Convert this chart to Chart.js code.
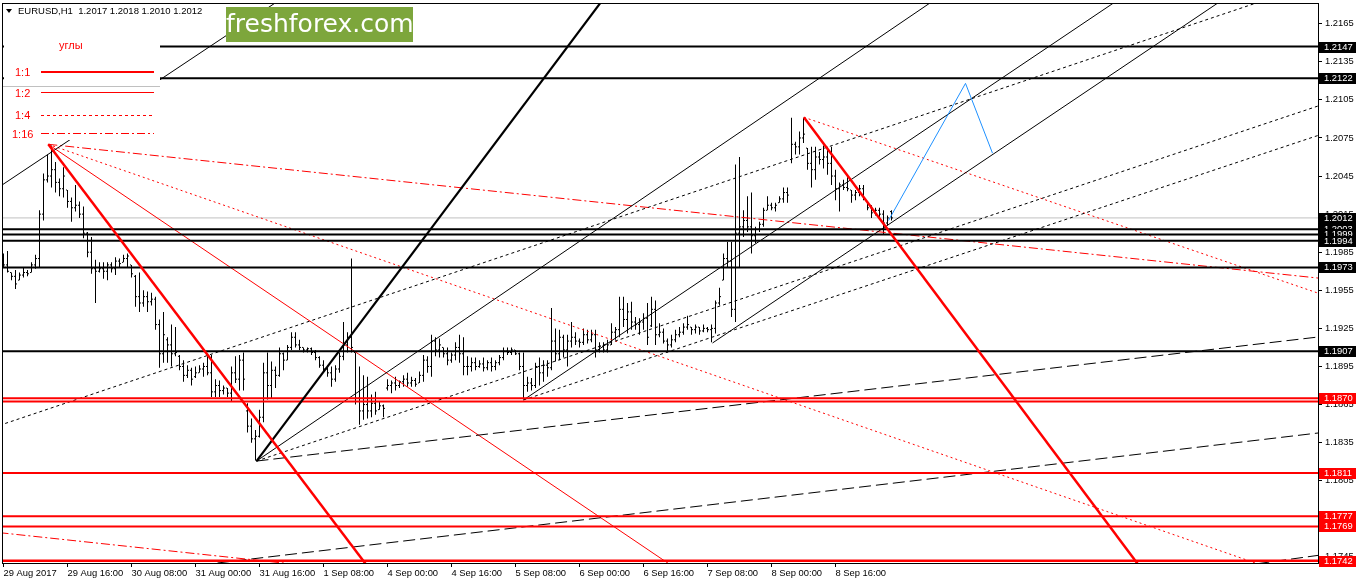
<!DOCTYPE html>
<html>
<head>
<meta charset="utf-8">
<title>EURUSD H1</title>
<script src="https://cdn.jsdelivr.net/npm/chart.js@4.4.1/dist/chart.umd.min.js"></script>
<style>
  html, body { margin: 0; padding: 0; background: #fff; overflow: hidden; }
  #wrap { position: relative; width: 1358px; height: 584px; }
  #chartCanvas { position: absolute; left: 0; top: 0; }
  #hdr { position: absolute; left: 18px; top: 5px; font: 9.5px "Liberation Sans", Arial, sans-serif; color: #000; white-space: pre; }
  #tri { position: absolute; left: 6px; top: 9px; width: 0; height: 0; border-left: 3px solid transparent; border-right: 3px solid transparent; border-top: 4px solid #000; }
  #logo { position: absolute; left: 226px; top: 7px; width: 187px; height: 35px; background: #7da63c; color: #fff; font: 25px "DejaVu Sans", sans-serif; line-height: 34px; text-align: center; }
  #angles { position: absolute; left: 4px; top: 28px; width: 156px; height: 112px; background: #fff; font: 11px "Liberation Sans", Arial, sans-serif; color: #f00; }
  #angles .t { position: absolute; line-height: 12px; }
  #angles .ln { position: absolute; left: 37px; width: 113px; height: 1px; }
  #angles .sep { position: absolute; left: -1px; width: 157px; top: 58px; border-top: 1px solid #c0c0c0; }
</style>
</head>
<body>
<div id="wrap">
  <canvas id="chartCanvas" width="1358" height="584"></canvas>
  <div id="tri"></div>
  <div id="hdr">EURUSD,H1  1.2017 1.2018 1.2010 1.2012</div>
  <div id="logo">freshforex.com</div>
  <div id="angles">
    <div class="t" style="left:55px;top:11px">углы</div>
    <div class="t" style="left:11px;top:38px">1:1</div>
    <div class="ln" style="top:43px;height:2px;background:#f00"></div>
    <div class="sep"></div>
    <div class="t" style="left:11px;top:59px">1:2</div>
    <div class="ln" style="top:64px;background:#f00"></div>
    <div class="t" style="left:11px;top:81px">1:4</div>
    <div class="ln" style="top:87px;background:repeating-linear-gradient(90deg,#f00 0 3px,transparent 3px 6px)"></div>
    <div class="t" style="left:8px;top:100px">1:16</div>
    <div class="ln" style="top:105px;background:repeating-linear-gradient(90deg,#f00 0 8px,transparent 8px 11px,#f00 11px 13px,transparent 13px 16px)"></div>
  </div>
</div>
<script>
// --- time axis (bar index of each label) ---
const timeLabels = ['29 Aug 2017', '29 Aug 16:00', '30 Aug 08:00', '31 Aug 00:00', '31 Aug 16:00', '1 Sep 08:00',
  '4 Sep 00:00', '4 Sep 16:00', '5 Sep 08:00', '6 Sep 00:00', '6 Sep 16:00', '7 Sep 08:00', '8 Sep 00:00', '8 Sep 16:00'];
const timeTickBars = [0, 16, 32, 48, 64, 80, 96, 112, 128, 144, 160, 176, 192, 208];

// --- price axis ---
const priceTicks = [1.1745, 1.1775, 1.1805, 1.1835, 1.1865, 1.1895, 1.1925, 1.1955, 1.1985, 1.2015, 1.2045, 1.2075, 1.2105, 1.2135, 1.2165];
const X_MIN = -0.375, X_MAX = 328.625;
const Y_MIN = 1.17402, Y_MAX = 1.21813;

// --- H1 bars (open / high / low / close) ---
const barOpen = [
  1.1980, 1.1975, 1.1969, 1.1966, 1.1963, 1.1967, 1.1969, 1.1969, 1.1975, 1.1980,
  1.2015, 1.2042, 1.2045, 1.2050, 1.2040, 1.2035, 1.2034, 1.2025, 1.2020, 1.2022,
  1.2015, 1.2000, 1.1985, 1.1972, 1.1970, 1.1972, 1.1970, 1.1975, 1.1972, 1.1978,
  1.1977, 1.1980, 1.1975, 1.1966, 1.1950, 1.1945, 1.1950, 1.1946, 1.1948, 1.1928,
  1.1905, 1.1916, 1.1912, 1.1905, 1.1903, 1.1895, 1.1888, 1.1892, 1.1887, 1.1890,
  1.1893, 1.1895, 1.1890, 1.1875, 1.1880, 1.1876, 1.1878, 1.1874, 1.1890, 1.1885,
  1.1900, 1.1860, 1.1848, 1.1838, 1.1840, 1.1855, 1.1890, 1.1880, 1.1892, 1.1888,
  1.1905, 1.1900, 1.1910, 1.1918, 1.1912, 1.1910, 1.1908, 1.1909, 1.1906, 1.1902,
  1.1896, 1.1893, 1.1890, 1.1885, 1.1893, 1.1903, 1.1912, 1.1918, 1.1906, 1.1870,
  1.1860, 1.1865, 1.1860, 1.1866, 1.1861, 1.1864, 1.1878, 1.1880, 1.1882, 1.1880,
  1.1883, 1.1885, 1.1882, 1.1884, 1.1882, 1.1888, 1.1900, 1.1895, 1.1915, 1.1908,
  1.1910, 1.1905, 1.1900, 1.1904, 1.1910, 1.1905, 1.1895, 1.1895, 1.1898, 1.1895,
  1.1897, 1.1894, 1.1898, 1.1895, 1.1898, 1.1902, 1.1907, 1.1906, 1.1908, 1.1905,
  1.1895, 1.1880, 1.1882, 1.1880, 1.1895, 1.1890, 1.1896, 1.1894, 1.1915, 1.1905,
  1.1918, 1.1908, 1.1915, 1.1918, 1.1915, 1.1914, 1.1920, 1.1916, 1.1920, 1.1908,
  1.1911, 1.1908, 1.1912, 1.1922, 1.1924, 1.1940, 1.1932, 1.1938, 1.1930, 1.1928,
  1.1930, 1.1933, 1.1927, 1.1940, 1.1920, 1.1922, 1.1915, 1.1912, 1.1916, 1.1920,
  1.1922, 1.1926, 1.1926, 1.1924, 1.1926, 1.1923, 1.1925, 1.1924, 1.1925, 1.1945,
  1.1963, 1.1980, 1.1978, 1.1940, 1.2000, 1.2005, 1.2010, 1.2005, 1.1998, 1.2003,
  1.2007, 1.2018, 1.2022, 1.2020, 1.2024, 1.2027, 1.2032, 1.2058, 1.2070, 1.2068,
  1.2075, 1.2067, 1.2055, 1.2050, 1.2060, 1.2058, 1.2060, 1.2055, 1.2045, 1.2035,
  1.2038, 1.2036, 1.2034, 1.2030, 1.2032, 1.2035, 1.2025, 1.2020, 1.2016, 1.2018,
  1.2015, 1.2008, 1.2017
];
const barHigh = [
  1.1984, 1.1986, 1.1969, 1.1971, 1.1969, 1.1973, 1.1971, 1.1977, 1.1983, 1.2018,
  1.2047, 1.2062, 1.2069, 1.2056, 1.2043, 1.2052, 1.2034, 1.2028, 1.2038, 1.2025,
  1.2021, 1.2001, 1.1997, 1.1979, 1.1977, 1.1977, 1.1977, 1.1977, 1.1981, 1.1980,
  1.1983, 1.1984, 1.1975, 1.1967, 1.1969, 1.1955, 1.1954, 1.1953, 1.1950, 1.1932,
  1.1938, 1.1918, 1.1928, 1.1926, 1.1904, 1.1900, 1.1896, 1.1894, 1.1895, 1.1896,
  1.1898, 1.1903, 1.1904, 1.1885, 1.1884, 1.1880, 1.1878, 1.1895, 1.1903, 1.1904,
  1.1906, 1.1866, 1.1854, 1.1845, 1.1861, 1.1898, 1.1906, 1.1899, 1.1895, 1.1910,
  1.1906, 1.1912, 1.1922, 1.1922, 1.1916, 1.1910, 1.1910, 1.1910, 1.1908, 1.1903,
  1.1900, 1.1896, 1.1895, 1.1896, 1.1906, 1.1930, 1.1922, 1.1980, 1.1906, 1.1895,
  1.1888, 1.1887, 1.1873, 1.1875, 1.1867, 1.1865, 1.1885, 1.1884, 1.1887, 1.1884,
  1.1888, 1.1890, 1.1887, 1.1886, 1.1891, 1.1904, 1.1903, 1.1920, 1.1918, 1.1917,
  1.1910, 1.1910, 1.1906, 1.1914, 1.1920, 1.1918, 1.1903, 1.1902, 1.1902, 1.1900,
  1.1902, 1.1900, 1.1902, 1.1900, 1.1904, 1.1910, 1.1910, 1.1910, 1.1908, 1.1906,
  1.1906, 1.1887, 1.1886, 1.1898, 1.1902, 1.1900, 1.1900, 1.1941, 1.1925, 1.1924,
  1.1920, 1.1920, 1.1930, 1.1922, 1.1917, 1.1925, 1.1924, 1.1924, 1.1924, 1.1914,
  1.1914, 1.1916, 1.1929, 1.1926, 1.1950, 1.1950, 1.1945, 1.1946, 1.1934, 1.1933,
  1.1937, 1.1945, 1.1950, 1.1947, 1.1929, 1.1925, 1.1917, 1.1920, 1.1924, 1.1926,
  1.1929, 1.1935, 1.1926, 1.1928, 1.1926, 1.1928, 1.1926, 1.1928, 1.1947, 1.1957,
  1.1984, 1.1993, 1.1993, 1.2054, 1.2060, 1.2018, 1.2029, 1.2032, 1.2005, 1.2009,
  1.2020, 1.2029, 1.2024, 1.2024, 1.2029, 1.2036, 1.2036, 1.2091, 1.2072, 1.2080,
  1.2091, 1.2067, 1.2068, 1.2068, 1.2064, 1.2069, 1.2068, 1.2068, 1.2050, 1.2040,
  1.2042, 1.2044, 1.2034, 1.2034, 1.2038, 1.2038, 1.2025, 1.2022, 1.2020, 1.2020,
  1.2018, 1.2014, 1.2018
];
const barLow = [
  1.1973, 1.1969, 1.1963, 1.1956, 1.1963, 1.1965, 1.1966, 1.1969, 1.1972, 1.1973,
  1.2010, 1.2040, 1.2036, 1.2032, 1.2029, 1.2028, 1.2020, 1.2009, 1.2017, 1.2012,
  1.1996, 1.1981, 1.1968, 1.1945, 1.1969, 1.1964, 1.1963, 1.1969, 1.1967, 1.1973,
  1.1977, 1.1973, 1.1965, 1.1942, 1.1938, 1.1942, 1.1938, 1.1943, 1.1924, 1.1894,
  1.1898, 1.1898, 1.1895, 1.1903, 1.1892, 1.1883, 1.1886, 1.1880, 1.1886, 1.1890,
  1.1887, 1.1888, 1.1871, 1.1871, 1.1871, 1.1873, 1.1871, 1.1867, 1.1882, 1.1876,
  1.1876, 1.1843, 1.1835, 1.1821, 1.1839, 1.1851, 1.1869, 1.1870, 1.1878, 1.1887,
  1.1892, 1.1900, 1.1908, 1.1910, 1.1908, 1.1906, 1.1906, 1.1904, 1.1900, 1.1894,
  1.1890, 1.1887, 1.1879, 1.1883, 1.1890, 1.1900, 1.1906, 1.1906, 1.1865, 1.1849,
  1.1853, 1.1854, 1.1855, 1.1857, 1.1861, 1.1855, 1.1876, 1.1874, 1.1876, 1.1878,
  1.1879, 1.1879, 1.1879, 1.1879, 1.1882, 1.1883, 1.1890, 1.1887, 1.1903, 1.1902,
  1.1902, 1.1896, 1.1898, 1.1900, 1.1898, 1.1888, 1.1888, 1.1891, 1.1892, 1.1894,
  1.1891, 1.1892, 1.1891, 1.1892, 1.1896, 1.1900, 1.1904, 1.1904, 1.1904, 1.1892,
  1.1869, 1.1875, 1.1876, 1.1878, 1.1880, 1.1883, 1.1887, 1.1892, 1.1899, 1.1900,
  1.1902, 1.1895, 1.1910, 1.1912, 1.1910, 1.1912, 1.1913, 1.1914, 1.1902, 1.1906,
  1.1906, 1.1906, 1.1912, 1.1916, 1.1918, 1.1926, 1.1921, 1.1924, 1.1924, 1.1920,
  1.1924, 1.1912, 1.1926, 1.1912, 1.1918, 1.1913, 1.1906, 1.1910, 1.1914, 1.1918,
  1.1920, 1.1924, 1.1920, 1.1921, 1.1920, 1.1922, 1.1922, 1.1914, 1.1921, 1.1943,
  1.1963, 1.1973, 1.1934, 1.1930, 1.1973, 1.1997, 1.2001, 1.1984, 1.1992, 1.2001,
  1.2005, 1.2018, 1.2018, 1.2017, 1.2024, 1.2024, 1.2024, 1.2055, 1.2062, 1.2062,
  1.2071, 1.2050, 1.2036, 1.2042, 1.2054, 1.2051, 1.2046, 1.2038, 1.2026, 1.2017,
  1.2034, 1.2033, 1.2024, 1.2026, 1.2029, 1.2026, 1.2018, 1.2012, 1.2014, 1.2012,
  1.1999, 1.2006, 1.2010
];
const barClose = [
  1.1975, 1.1970, 1.1966, 1.1960, 1.1967, 1.1969, 1.1968, 1.1975, 1.1980, 1.2015,
  1.2042, 1.2045, 1.2050, 1.2040, 1.2035, 1.2045, 1.2025, 1.2020, 1.2022, 1.2015,
  1.2000, 1.1985, 1.1972, 1.1970, 1.1972, 1.1970, 1.1975, 1.1972, 1.1978, 1.1976,
  1.1980, 1.1982, 1.1968, 1.1950, 1.1945, 1.1950, 1.1946, 1.1948, 1.1928, 1.1905,
  1.1920, 1.1912, 1.1905, 1.1906, 1.1895, 1.1888, 1.1892, 1.1885, 1.1890, 1.1893,
  1.1895, 1.1890, 1.1875, 1.1880, 1.1876, 1.1878, 1.1874, 1.1890, 1.1885, 1.1900,
  1.1885, 1.1848, 1.1838, 1.1840, 1.1855, 1.1890, 1.1880, 1.1892, 1.1888, 1.1905,
  1.1900, 1.1910, 1.1918, 1.1912, 1.1910, 1.1908, 1.1909, 1.1906, 1.1902, 1.1896,
  1.1893, 1.1890, 1.1885, 1.1893, 1.1903, 1.1912, 1.1918, 1.1910, 1.1870, 1.1860,
  1.1865, 1.1860, 1.1866, 1.1860, 1.1864, 1.1862, 1.1880, 1.1882, 1.1880, 1.1883,
  1.1885, 1.1882, 1.1884, 1.1881, 1.1888, 1.1900, 1.1895, 1.1915, 1.1908, 1.1912,
  1.1905, 1.1900, 1.1904, 1.1910, 1.1905, 1.1895, 1.1895, 1.1898, 1.1895, 1.1897,
  1.1894, 1.1898, 1.1895, 1.1898, 1.1902, 1.1907, 1.1906, 1.1908, 1.1905, 1.1895,
  1.1880, 1.1882, 1.1880, 1.1895, 1.1890, 1.1896, 1.1894, 1.1915, 1.1905, 1.1918,
  1.1908, 1.1915, 1.1918, 1.1915, 1.1914, 1.1920, 1.1916, 1.1920, 1.1908, 1.1911,
  1.1908, 1.1912, 1.1922, 1.1924, 1.1940, 1.1932, 1.1938, 1.1930, 1.1928, 1.1930,
  1.1933, 1.1918, 1.1940, 1.1920, 1.1922, 1.1915, 1.1912, 1.1916, 1.1920, 1.1922,
  1.1926, 1.1928, 1.1924, 1.1926, 1.1923, 1.1925, 1.1924, 1.1925, 1.1945, 1.1950,
  1.1980, 1.1978, 1.1940, 1.2000, 1.2005, 1.2010, 1.2005, 1.1998, 1.2003, 1.2007,
  1.2018, 1.2022, 1.2020, 1.2022, 1.2027, 1.2032, 1.2030, 1.2070, 1.2068, 1.2075,
  1.2078, 1.2055, 1.2050, 1.2060, 1.2058, 1.2060, 1.2055, 1.2045, 1.2035, 1.2038,
  1.2036, 1.2035, 1.2030, 1.2032, 1.2035, 1.2028, 1.2020, 1.2016, 1.2018, 1.2015,
  1.2008, 1.2012, 1.2012
];

// --- horizontal levels ---
const blackLevels = [1.2147, 1.2122, 1.2003, 1.1999, 1.1994, 1.1973, 1.1907];
const redLevels = [1.1870, 1.18675, 1.1811, 1.1777, 1.1769, 1.1742];
const redLabelLevels = [1.1870, 1.1811, 1.1777, 1.1769, 1.1742];
const bidLevel = 1.2012;

// --- trend lines: [bar1, price1, bar2, price2] ---
const gannThickUp = [[63.25, 1.18205, 160, 1.22266]];
const blackSolid = [
  [63.25, 1.18205, 250, 1.22207],
  [-1, 1.20366, 80, 1.22067],
  [130, 1.18686, 300, 1.22290],
  [177.25, 1.19135, 330, 1.22373]
];
const blackDotted = [
  [-1, 1.18486, 330, 1.21991],
  [63.25, 1.18205, 330, 1.21016],
  [130, 1.18686, 330, 1.20784]
];
const blackLongDash = [
  [63.25, 1.18205, 330, 1.19187],
  [53.5, 1.17402, 330, 1.18431],
  [309.25, 1.17378, 330, 1.17468]
];
const redThick = [
  [11.2, 1.2070, 95, 1.17209],
  [200.1, 1.20913, 290, 1.17123]
];
const redThin = [[11.2, 1.2070, 180, 1.17105]];
const redDotted = [
  [11.2, 1.2070, 330, 1.17216],
  [200.1, 1.20913, 330, 1.19513]
];
const redDashDot = [
  [11.2, 1.2070, 330, 1.19642],
  [-1, 1.17641, 80, 1.17368]
];
const forecastPath = [[221.25, 1.2010], [240.5, 1.2118], [247.25, 1.2063]];

const FONT = { family: '"Liberation Sans", Arial, sans-serif', size: 9.4 };

function seg(list, color, width, dash) {
  return list.map(s => ({
    type: 'line',
    data: [{ x: s[0], y: s[1] }, { x: s[2], y: s[3] }],
    borderColor: color, borderWidth: width, borderDash: dash || [],
    pointRadius: 0, fill: false, tension: 0, order: 1
  }));
}
function hline(levels, color, width) {
  return levels.map(v => ({
    type: 'line',
    data: [{ x: X_MIN, y: v }, { x: X_MAX, y: v }],
    borderColor: color, borderWidth: width, pointRadius: 0, fill: false, order: 1
  }));
}

const datasets = [].concat(
  [{
    type: 'line',
    data: forecastPath.map(p => ({ x: p[0], y: p[1] })),
    borderColor: '#1e90ff', borderWidth: 1, pointRadius: 0, tension: 0, fill: false, order: 1
  }],
  seg(redThick, '#ff0000', 2.5),
  seg(gannThickUp, '#000', 2.2),
  hline(redLevels.slice(0, 5), '#ff0000', 2),
  hline(redLevels.slice(5), '#ff0000', 2.5),
  hline(blackLevels, '#000', 2),
  seg(blackSolid, '#000', 1),
  seg(blackDotted, '#000', 1, [3, 3]),
  seg(blackLongDash, '#000', 1, [12, 5]),
  seg(redThin, '#ff0000', 1),
  seg(redDotted, '#ff0000', 1, [2, 3]),
  seg(redDashDot, '#ff0000', 1, [9, 3, 2, 3]),
  [{
    type: 'bar',
    data: barHigh.map((h, i) => ({ x: i, y: [barLow[i], h] })),
    backgroundColor: '#000', borderWidth: 0, barThickness: 1, inflateAmount: 0,
    grouped: false, order: 2
  }, {
    type: 'line', showLine: false,
    data: barOpen.map((v, i) => ({ x: i - 0.25, y: v })),
    pointStyle: 'line', pointRadius: 0.5, pointBorderWidth: 1, pointBorderColor: '#000',
    pointHoverRadius: 0, order: 2
  }, {
    type: 'line', showLine: false,
    data: barClose.map((v, i) => ({ x: i + 0.25, y: v })),
    pointStyle: 'line', pointRadius: 0.5, pointBorderWidth: 1, pointBorderColor: '#000',
    pointHoverRadius: 0, order: 2
  }],
  hline([bidLevel], '#c0c0c0', 1).map(d => Object.assign(d, { order: 3 }))
);

// frame around the plot area
const framePlugin = {
  id: 'frame',
  afterDatasetsDraw(chart) {
    const { ctx, chartArea: a } = chart;
    ctx.save();
    ctx.strokeStyle = '#000';
    ctx.lineWidth = 1;
    ctx.strokeRect(a.left + 0.5, a.top + 0.5, a.right - a.left, a.bottom - a.top);
    ctx.restore();
  }
};

// price tags of the levels on the right scale
const levelTagPlugin = {
  id: 'levelTags',
  afterDraw(chart) {
    const { ctx } = chart;
    const ys = chart.scales.y;
    ctx.save();
    ctx.font = FONT.size + 'px ' + FONT.family;
    ctx.textBaseline = 'middle';
    const tag = (v, bg) => {
      const py = Math.round(ys.getPixelForValue(v));
      ctx.fillStyle = bg;
      ctx.fillRect(ys.left + 1, py - 5, 37, 11);
      ctx.fillStyle = '#fff';
      ctx.fillText(v.toFixed(4), ys.left + 6, py + 0.5);
    };
    blackLevels.forEach(v => tag(v, '#000'));
    redLabelLevels.forEach(v => tag(v, '#ff0000'));
    tag(bidLevel, '#000');
    ctx.restore();
  }
};

const ctx = document.getElementById('chartCanvas').getContext('2d');
window.currentChart = new Chart(ctx, {
  type: 'bar',
  data: { datasets },
  options: {
    responsive: false,
    animation: false,
    devicePixelRatio: 1,
    events: [],
    layout: { padding: { left: 2, top: 3, right: 0, bottom: 0 }, autoPadding: false },
    plugins: { legend: { display: false }, tooltip: { enabled: false } },
    scales: {
      x: {
        type: 'linear', min: X_MIN, max: X_MAX, offset: false,
        grid: { drawOnChartArea: false, tickLength: 4, color: '#000', offset: false },
        border: { display: true, color: '#000' },
        ticks: {
          autoSkip: false, maxRotation: 0, minRotation: 0, align: 'start', padding: 1,
          font: FONT, color: '#000',
          callback: (v, i) => timeLabels[i]
        },
        afterBuildTicks: s => { s.ticks = timeTickBars.map(v => ({ value: v })); },
        afterFit: s => { s.height = 21; s.paddingLeft = 0; s.paddingRight = 0; }
      },
      y: {
        type: 'linear', position: 'right', min: Y_MIN, max: Y_MAX,
        grid: { drawOnChartArea: false, tickLength: 4, color: '#000' },
        border: { display: true, color: '#000' },
        ticks: { padding: 3, font: FONT, color: '#000', callback: v => v.toFixed(4) },
        afterBuildTicks: s => { s.ticks = priceTicks.map(v => ({ value: v })); },
        afterFit: s => { s.width = 40; s.paddingTop = 0; s.paddingBottom = 0; }
      }
    }
  },
  plugins: [framePlugin, levelTagPlugin]
});
</script>
</body>
</html>
